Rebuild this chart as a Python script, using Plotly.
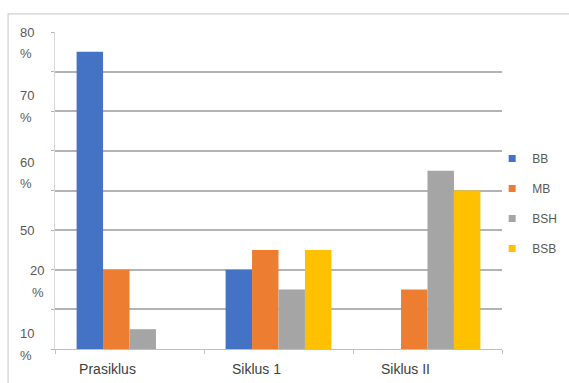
import plotly.graph_objects as go

categories = ["Prasiklus", "Siklus 1", "Siklus II"]
series_names = ["BB", "MB", "BSH", "BSB"]
bb = [75, 20, 0]
mb = [20, 25, 15]
bsh = [5, 15, 45]
bsb = [0, 25, 40]
series_values = [bb, mb, bsh, bsb]
colors = ["#4472C4", "#ED7D31", "#A5A5A5", "#FFC000"]

# y-axis label texts as printed in the chart (number line, then "%" line)
ytick_numbers = ["80", "70", "60", "50", "20", "10"]
ytick_percent = ["%", "%", "%", "", "%", "%"]

# layout: pixel rows of the label lines (plot area spans rows 32..349)
PLOT_TOP, PLOT_BOT = 32, 349
ynum_px = [32, 95, 162, 230, 270, 333]
ypct_px = [53, 117, 183, None, 292, 355]
ynum_shift = [0, 0, 0, 0, 10, 0]
ypct_shift = [0, 0, 0, 0, 12, 0]


def to_paper(px):
    return (PLOT_BOT - px) / (PLOT_BOT - PLOT_TOP)


fig = go.Figure()
for name, vals, col in zip(series_names, series_values, colors):
    fig.add_trace(go.Bar(x=categories, y=vals, name=name, marker_color=col,
                         marker_line_width=0, showlegend=False))
    fig.add_trace(go.Scatter(x=[None], y=[None], mode="markers", name=name,
                             marker=dict(symbol="square", size=7, color=col),
                             legendgroup=name, showlegend=True))

annotations = []
for t, yp, sh in zip(ytick_numbers, ynum_px, ynum_shift):
    annotations.append(dict(text=t, x=0, xref="paper", y=to_paper(yp), yref="paper",
                            xanchor="left", yanchor="middle", xshift=-37 + sh,
                            showarrow=False, font=dict(size=13, color="#595959")))
for t, yp, sh in zip(ytick_percent, ypct_px, ypct_shift):
    if not t:
        continue
    annotations.append(dict(text=t, x=0, xref="paper", y=to_paper(yp), yref="paper",
                            xanchor="left", yanchor="middle", xshift=-37 + sh,
                            showarrow=False, font=dict(size=13, color="#595959")))

fig.update_layout(
    width=569, height=383,
    margin=dict(l=55, r=67, t=32, b=34, autoexpand=False),
    paper_bgcolor="white", plot_bgcolor="white",
    font=dict(family="Liberation Sans, Arial, sans-serif", size=12, color="#595959"),
    barmode="group", bargap=0.29, bargroupgap=0,
    xaxis=dict(showgrid=False, showline=True, linecolor="#bfbfbf", linewidth=1,
               ticks="outside", tickson="boundaries", ticklen=4, tickcolor="#bfbfbf",
               ticklabelstandoff=7, ticklabelshift=-22,
               tickfont=dict(size=14, color="#404040")),
    yaxis=dict(range=[0, 80], dtick=10, showgrid=True, gridcolor="#b3b3b3", gridwidth=1.5,
               showticklabels=False, ticks="outside", ticklen=3, tickcolor="#b3b3b3",
               showline=True, linecolor="#d9d9d9", linewidth=1, zeroline=False, fixedrange=True),
    legend=dict(x=0.978, xanchor="left", y=0.647, yanchor="top",
                font=dict(size=12, color="#595959"), tracegroupgap=11,
                itemwidth=30, bgcolor="rgba(0,0,0,0)"),
    annotations=annotations,
    shapes=[dict(type="rect", xref="paper", yref="paper", x0=-0.105, x1=1.6,
                 y0=-0.6, y1=1.057, line=dict(color="#d0d0d0", width=1.2),
                 fillcolor="rgba(0,0,0,0)", layer="below")],
)

fig.write_html("out.html")
